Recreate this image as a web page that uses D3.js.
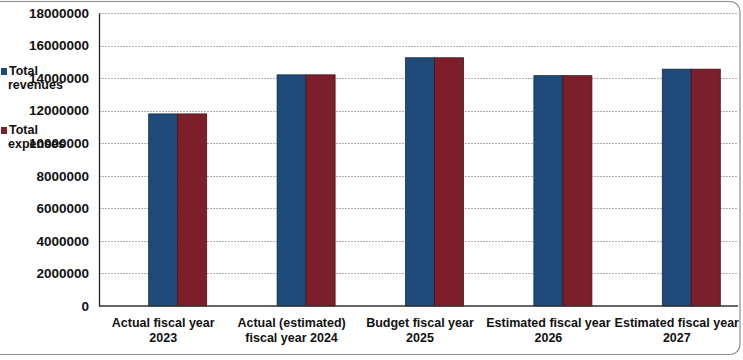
<!DOCTYPE html>
<html>
<head>
<meta charset="utf-8">
<script src="https://cdn.jsdelivr.net/npm/d3@7/dist/d3.min.js"></script>
<style>
  html, body { margin: 0; padding: 0; background: #fff; }
  svg { display: block; font-family: "Liberation Sans", Arial, sans-serif; font-weight: bold; }
</style>
</head>
<body>
<svg id="chart" width="743" height="360"></svg>
<script>
// data
const categories = [
  ["Actual fiscal year", "2023"],
  ["Actual (estimated)", "fiscal year 2024"],
  ["Budget fiscal year", "2025"],
  ["Estimated fiscal year", "2026"],
  ["Estimated fiscal year", "2027"]
];
const seriesNames = ["Total revenues", "Total expenses"];
const revenues = [11800000, 14200000, 15250000, 14150000, 14550000];
const expenses = [11800000, 14200000, 15250000, 14150000, 14550000];
const yTicks = [0, 2000000, 4000000, 6000000, 8000000, 10000000, 12000000, 14000000, 16000000, 18000000];
const colors = ["#1d4a78", "#7c1f2b"];

const svg = d3.select("#chart");
const width = 743, height = 360;
const margin = { top: 13, right: 2, bottom: 54, left: 99 };

// outer frame
svg.append("rect")
  .attr("x", -12).attr("y", 1.5)
  .attr("width", 752).attr("height", 353)
  .attr("rx", 10)
  .attr("fill", "none")
  .attr("stroke", "#8a8a8a")
  .attr("stroke-width", 1.2);

const x = d3.scaleBand()
  .domain(d3.range(categories.length))
  .range([margin.left, width - margin.right]);

const y = d3.scaleLinear()
  .domain([0, 18000000])
  .range([height - margin.bottom, margin.top]);

// three slots per category, first one empty (like the original)
const slot = d3.scaleBand()
  .domain([0, 1, 2])
  .range([x.bandwidth() / 2 - 43.5, x.bandwidth() / 2 + 43.5]);

const g = svg.append("g");

// gridlines
g.selectAll(".grid")
  .data(yTicks.filter(d => d > 0))
  .enter().append("line")
  .attr("x1", margin.left).attr("x2", width - 5)
  .attr("y1", d => Math.round(y(d)) + 0.5).attr("y2", d => Math.round(y(d)) + 0.5)
  .attr("stroke", "#9a9a9a")
  .attr("stroke-width", 0.8)
  .attr("stroke-dasharray", "2,1");

// bars
const data = categories.map((c, i) => ({ i, vals: [revenues[i], expenses[i]] }));
const groups = g.selectAll(".grp").data(data).enter().append("g")
  .attr("transform", d => `translate(${x(d.i)},0)`);

groups.selectAll("rect")
  .data(d => d.vals.map((v, k) => ({ v, k })))
  .enter().append("rect")
  .attr("x", d => slot(d.k + 1))
  .attr("width", slot.bandwidth())
  .attr("y", d => y(d.v))
  .attr("height", d => y(0) - y(d.v))
  .attr("fill", d => colors[d.k])
  .attr("stroke", d => d.k === 0 ? "#0f2a48" : "#4a1018")
  .attr("stroke-width", 0.8);

// y axis
const yAxis = d3.axisLeft(y).tickValues(yTicks).tickSize(0).tickPadding(10).tickFormat(d3.format("d"));
const ya = svg.append("g")
  .attr("transform", `translate(${margin.left},0)`)
  .call(yAxis);
ya.select(".domain").attr("stroke", "#222").attr("stroke-width", 1.3);
ya.selectAll("text")
  .attr("font-size", 13.5)
  .attr("font-family", "Liberation Sans, Arial, sans-serif")
  .attr("font-weight", "bold")
  .attr("fill", "#111");

// x axis line
svg.append("line")
  .attr("x1", margin.left).attr("x2", width - 5)
  .attr("y1", y(0)).attr("y2", y(0))
  .attr("stroke", "#333").attr("stroke-width", 1.3);

// category labels
const labels = svg.selectAll(".cat").data(categories).enter().append("text")
  .attr("text-anchor", "middle")
  .attr("font-size", 12.5)
  .attr("fill", "#111")
  .attr("x", (d, i) => x(i) + x.bandwidth() / 2)
  .attr("y", 327);
labels.append("tspan").text(d => d[0]);
labels.append("tspan")
  .attr("x", (d, i) => x(i) + x.bandwidth() / 2)
  .attr("dy", 15)
  .text(d => d[1]);

// legend
const legendY = [75, 134];
seriesNames.forEach((name, k) => {
  const parts = name.split(" ");
  svg.append("rect")
    .attr("x", 1).attr("y", legendY[k] - 7)
    .attr("width", 6).attr("height", 7)
    .attr("fill", colors[k]);
  const t = svg.append("text")
    .attr("x", 9).attr("y", legendY[k])
    .attr("font-size", 12.5)
    .attr("fill", "#111");
  t.append("tspan").text(parts[0]);
  t.append("tspan").attr("x", 8).attr("dy", 14).text(parts[1]);
});
</script>
</body>
</html>
